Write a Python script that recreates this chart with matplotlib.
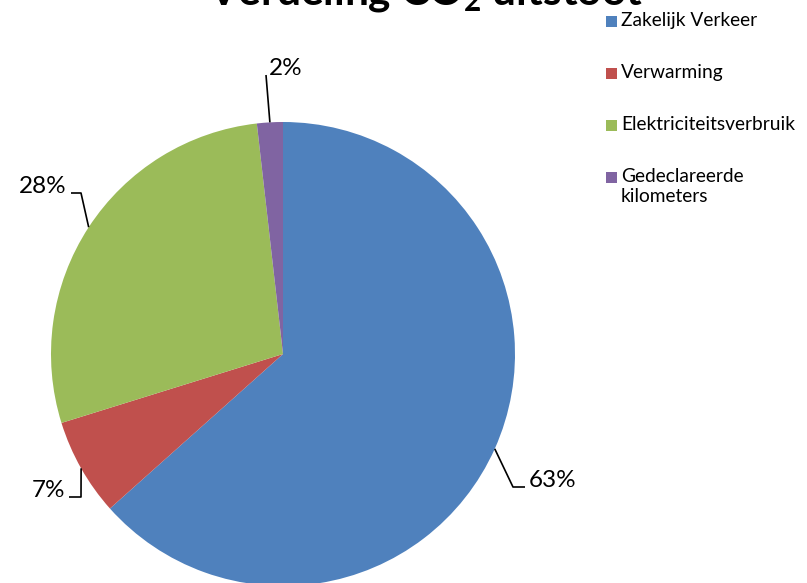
import numpy as np
import matplotlib
matplotlib.use('Agg')
import matplotlib.pyplot as plt
from matplotlib.patches import Rectangle

plt.rcParams['font.family'] = ['Lato', 'DejaVu Sans']
plt.rcParams['mathtext.fontset'] = 'custom'
plt.rcParams['mathtext.rm'] = 'Lato'
plt.rcParams['mathtext.bf'] = 'Lato:bold'

# data
categories = ['Zakelijk Verkeer', 'Verwarming', 'Elektriciteitsverbruik',
              'Gedeclareerde\nkilometers']
values = [63.4, 6.8, 28.0, 1.8]
labels = ['63%', '7%', '28%', '2%']
colors = ['#4F81BD', '#C0504D', '#9BBB59', '#8064A2']

W, H = 807, 583
cx, cy, R = 283, 354, 232   # pie centre / radius in pixels


def p2d(x, y):
    # pixel -> data coords (pie radius = 1)
    return (x - cx) / R, (cy - y) / R


def fx(x, y):
    # pixel -> figure fraction
    return x / W, 1 - y / H


fig = plt.figure(figsize=(W / 100, H / 100), dpi=100, facecolor='w')
ax = fig.add_axes([0, 0, 1, 1])

wedges, _ = ax.pie(values, colors=colors, startangle=90, counterclock=False,
                   radius=1, center=(0, 0), frame=True)
ax.set_xlim(-cx / R, (W - cx) / R)
ax.set_ylim((cy - H) / R, cy / R)
ax.set_aspect('auto')
ax.axis('off')

# leader lines: elbow point, end point, label anchor (pixels)
leaders = [
    ((513, 487), (525, 487), (529, 487), 'left'),
    ((81, 497), (69, 497), (65, 497), 'right'),
    ((81, 193), (71, 193), (67, 193), 'right'),
    ((266, 75), (266, 75), (269, 75), 'left'),
]
for w, lab, (elb, end, anc, ha) in zip(wedges, labels, leaders):
    mid = np.deg2rad((w.theta1 + w.theta2) / 2)
    p0 = (np.cos(mid), np.sin(mid))
    p1 = p2d(*elb)
    p2 = p2d(*end)
    ax.plot([p0[0], p1[0], p2[0]], [p0[1], p1[1], p2[1]], color='black', lw=1.2,
            solid_capstyle='butt')
    ax.text(*p2d(*anc), lab, ha=ha, va='baseline', fontsize=17.5, color='black')

# title (top is cut off in the original)
fig.text(*fx(425, 5), r'Verdeling CO$_\mathbf{2}$ uitstoot', ha='center',
         va='baseline', fontsize=30.5, fontweight='bold', color='black')

# legend
leg_y = [21, 73, 125, 177]
for col, name, y in zip(colors, categories, leg_y):
    x0, y0 = fx(606, y + 5.5)
    fig.patches.append(Rectangle((x0, y0), 11 / W, 11 / H, transform=fig.transFigure,
                                 facecolor=col, edgecolor='none'))
    fig.text(*fx(621, y - 9), name, ha='left', va='top', fontsize=13.8,
             linespacing=1.25, color='black')

fig.savefig('out.png', dpi=100)
